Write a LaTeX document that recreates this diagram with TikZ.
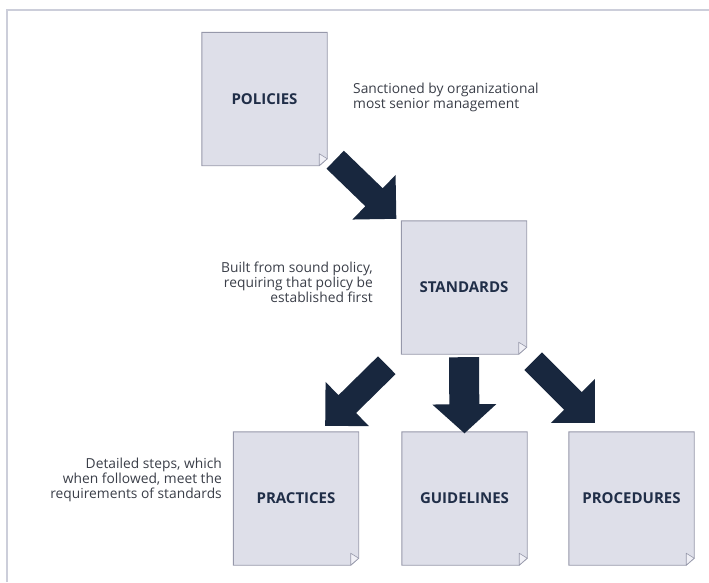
\documentclass[tikz,border=0pt]{standalone}
\usepackage{fontspec}
\setmainfont{Open Sans}
\usetikzlibrary{calc,backgrounds}

\definecolor{pagefill}{RGB}{222,223,233}
\definecolor{pageline}{RGB}{150,152,170}
\definecolor{foldfill}{RGB}{240,240,246}
\definecolor{arrowblue}{RGB}{24,39,62}
\definecolor{labelblue}{RGB}{32,46,72}
\definecolor{notegray}{RGB}{58,62,72}
\definecolor{framegray}{RGB}{204,206,218}

% Block arrow from a tail point to a tip point:
% #1 tail, #2 tip, #3 shaft half-width, #4 head half-width, #5 head length
\newcommand\flowarrow[5]{%
  \coordinate (fa-base) at ($(#2)!#5!(#1)$);
  \fill[arrowblue] (#2)
    -- ($(fa-base)!#4!90:(#2)$)
    -- ($(fa-base)!#3!90:(#2)$)
    -- ($(#1)!#3!90:(#2)$)
    -- ($(#1)!#3!-90:(#2)$)
    -- ($(fa-base)!#3!-90:(#2)$)
    -- ($(fa-base)!#4!-90:(#2)$)
    -- cycle;}

\tikzset{
  pagebox/.style={minimum width=125pt, minimum height=133pt, inner sep=0pt,
    font=\bfseries\fontsize{15}{18}\selectfont, text=labelblue},
  note/.style={inner sep=0pt, text=notegray,
    font=\fontsize{13.8}{15}\selectfont},
  pageshape/.style={fill=pagefill, draw=pageline, line width=0.9pt},
  foldshape/.style={fill=foldfill, draw=pageline, line width=0.6pt, line join=round},
}

\begin{document}
\begin{tikzpicture}[x=1pt, y=-1pt]
\useasboundingbox (0,0) rectangle (709,582);

% outer frame
\draw[framegray, line width=2pt] (6.5,582) -- (6.5,9.5) -- (709,9.5);

% document pages
\node[pagebox] (pol) at (264.5,99)   {POLICIES};
\node[pagebox] (std) at (464,287.5)  {STANDARDS};
\node[pagebox] (pra) at (296,498.5)  {PRACTICES};
\node[pagebox] (gui) at (464.5,498.5){GUIDELINES};
\node[pagebox] (pro) at (631.5,498.5){PROCEDURES};

\begin{pgfonlayer}{background}
  \foreach \n in {pol,std,pra,gui,pro}{
    \path[pageshape] (\n.north west) -- (\n.north east)
      -- ($(\n.south east)+(0,-7)$) -- ($(\n.south east)+(-8,0)$)
      -- (\n.south west) -- cycle;
    \path[foldshape] ($(\n.south east)+(0,-7)$) -- ($(\n.south east)+(-8,-12)$)
      -- ($(\n.south east)+(-8,0)$) -- cycle;
  }
\end{pgfonlayer}

% notes
\node[note, anchor=north west, align=left] (n1) at (353,83)
  {Sanctioned by organizational\\most senior management};
\node[note, anchor=north east, align=right] (n2) at (373,261.5)
  {Built from sound policy,\\requiring that policy be\\established first};
\node[note, anchor=north east, align=right] (n3) at (222,457.5)
  {Detailed steps, which\\when followed, meet the\\requirements of standards};

% arrow end points
\coordinate (a1t) at ($(pol.south east)+(8,-6)$);
\coordinate (a1h) at ($(std.north west)+(-5,-2)$);
\coordinate (a2t) at ($(std.south west)+(-14.5,11)$);
\coordinate (a2h) at ($(pra.north east)+(-33.5,-6)$);
\coordinate (a3t) at ($(std.south)+(0,3)$);
\coordinate (a3h) at ($(gui.north)+(0,1.5)$);
\coordinate (a4t) at ($(std.south east)+(6.5,7)$);
\coordinate (a4h) at ($(pro.north west)+(26,-9)$);

\flowarrow{a1t}{a1h}{12.5pt}{31pt}{31pt}
\flowarrow{a2t}{a2h}{12.5pt}{31pt}{31pt}
\flowarrow{a3t}{a3h}{15pt}{32pt}{29pt}
\flowarrow{a4t}{a4h}{12.5pt}{31pt}{31pt}
\end{tikzpicture}
\end{document}
